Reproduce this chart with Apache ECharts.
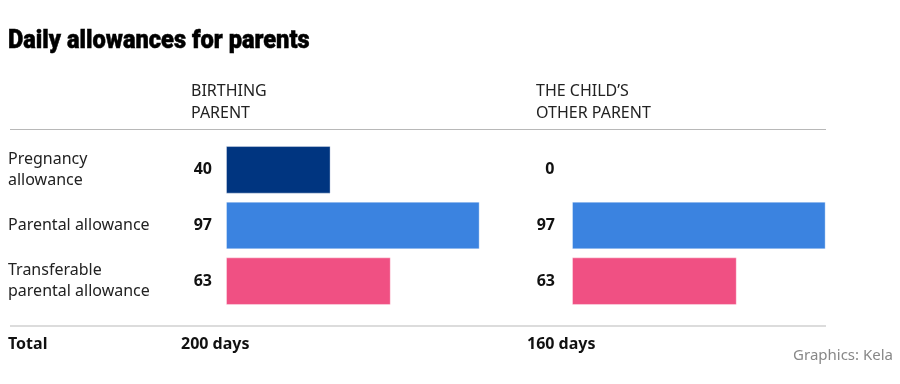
<!DOCTYPE html>
<html><head><meta charset="utf-8">
<script src="https://cdn.jsdelivr.net/npm/echarts@6/dist/echarts.min.js"></script>
<style>html,body{margin:0;padding:0;background:#fff}#c{width:900px;height:384px}</style>
</head><body><div id="c"></div>
<script>
const titleText = 'Daily allowances for parents';
const categories = ['Pregnancy\nallowance', 'Parental allowance', 'Transferable\nparental allowance'];
const birthingParent = [40, 97, 63];
const otherParent = [0, 97, 63];
const columnHeaders = ['BIRTHING\nPARENT', 'THE CHILD\u2019S\nOTHER PARENT'];
const totalLabel = 'Total';
const sourceText = 'Graphics: Kela';
const barColors = ['#003580', '#3b83e0', '#f05083'];

const FONT = '"Noto Sans", sans-serif';
const sum = a => a.reduce((s, v) => s + v, 0);
const totals = [sum(birthingParent) + ' days', sum(otherParent) + ' days'];

const chart = echarts.init(document.getElementById('c'), null, {renderer: 'canvas'});
const gridTop = 142, gridH = 167, gridW = 261.5;
const grids = [{left: 226, top: gridTop, width: gridW, height: gridH}, {left: 572, top: gridTop, width: gridW, height: gridH}];

function mkSeries(data, idx, dist) {
  return {
    type: 'bar', xAxisIndex: idx, yAxisIndex: idx,
    barCategoryGap: '14.5%',
    data: data.map((v, i) => ({value: v, itemStyle: {color: barColors[i], borderColor: 'rgba(255,255,255,0.35)', borderWidth: 1}})),
    label: {show: true, position: 'left', distance: dist, fontFamily: FONT, fontWeight: 'bold', fontSize: 16, color: '#111'},
    silent: true, animation: false
  };
}

chart.setOption({
  animation: false,
  grid: grids,
  xAxis: [0, 1].map(i => ({type: 'value', gridIndex: i, min: 0, max: 100, show: false})),
  yAxis: [0, 1].map(i => ({
    type: 'category', gridIndex: i, inverse: true, data: categories,
    axisLine: {show: false}, axisTick: {show: false}, splitLine: {show: false},
    axisLabel: {show: i === 0, align: 'left', margin: 218, fontFamily: FONT, fontSize: 16, color: '#222', lineHeight: 21}
  })),
  series: [mkSeries(birthingParent, 0, 14), mkSeries(otherParent, 1, 17)],
  graphic: [
    {type: 'text', x: 8, y: 29, scaleX: 0.945, style: {text: titleText, fontFamily: 'Roboto, sans-serif', fontWeight: 900, fontSize: 25, fill: '#000', stroke: '#000', lineWidth: 0.5}},
    {type: 'text', left: 191, top: 80, style: {text: columnHeaders[0], font: '16px ' + FONT, fill: '#222', lineHeight: 22}},
    {type: 'text', left: 536, top: 80, style: {text: columnHeaders[1], font: '16px ' + FONT, fill: '#222', lineHeight: 22}},
    {type: 'line', shape: {x1: 10, y1: 129.5, x2: 826, y2: 129.5}, style: {stroke: '#b8b8b8', lineWidth: 1}},
    {type: 'line', shape: {x1: 10, y1: 326, x2: 826, y2: 326}, style: {stroke: '#dcdcdc', lineWidth: 2}},
    {type: 'text', left: 8, top: 336, style: {text: totalLabel, font: 'bold 16px ' + FONT, fill: '#111'}},
    {type: 'text', left: 181, top: 336, style: {text: totals[0], font: 'bold 16px ' + FONT, fill: '#111'}},
    {type: 'text', left: 527, top: 336, style: {text: totals[1], font: 'bold 16px ' + FONT, fill: '#111'}},
    {type: 'text', right: 7, top: 348, style: {text: sourceText, font: '15px ' + FONT, fill: '#888'}}
  ]
});
</script></body></html>
